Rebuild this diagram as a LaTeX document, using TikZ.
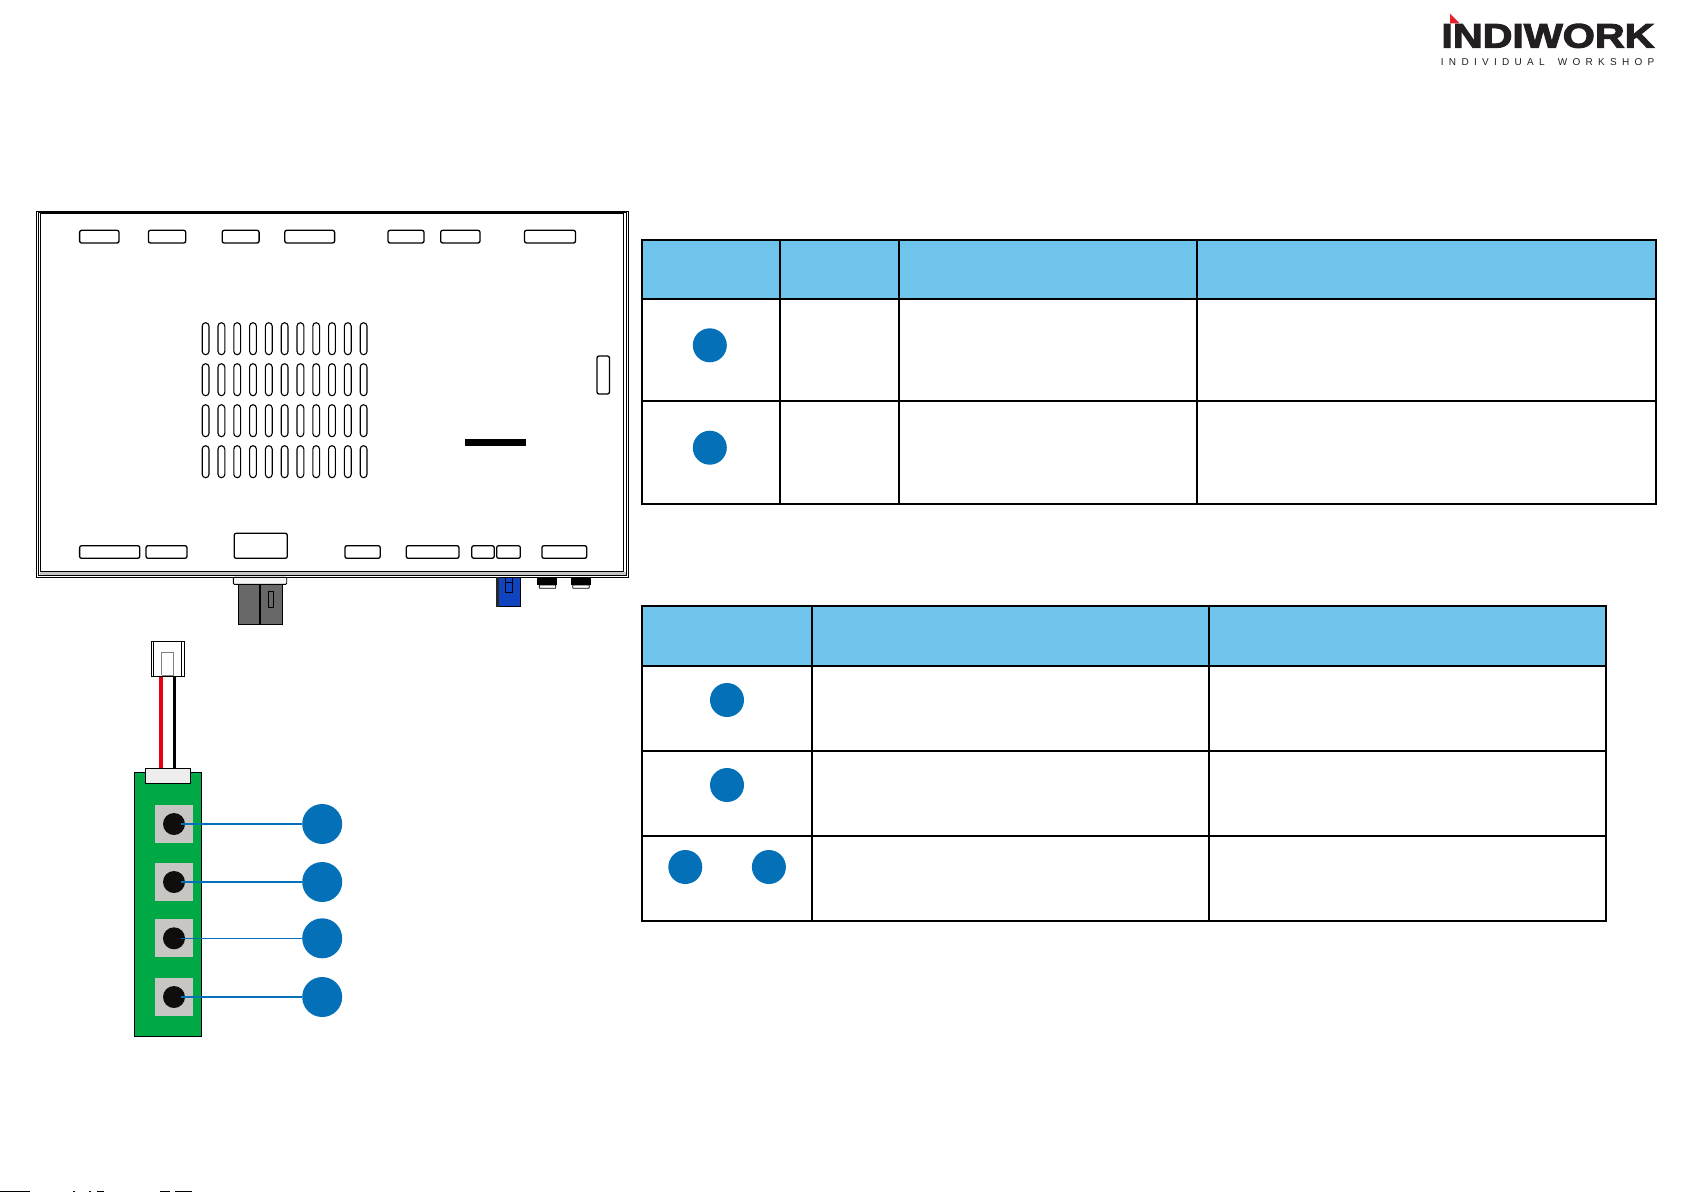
\documentclass[tikz,border=0pt]{standalone}
\usepackage{graphicx}
\usepackage{fontspec}
\setmainfont{Liberation Sans}
\definecolor{headblue}{HTML}{6EC4EA}
\definecolor{markblue}{HTML}{0470B8}
\definecolor{pcbgreen}{HTML}{00A846}
\definecolor{padgray}{HTML}{C8C6C2}
\definecolor{dotblack}{HTML}{100E0D}
\definecolor{plugblue}{HTML}{1043BE}
\definecolor{pluggray}{HTML}{686868}
\definecolor{wirered}{HTML}{E60012}
\definecolor{logoblack}{HTML}{231F20}
\definecolor{logored}{HTML}{E8202A}

\begin{document}
\begin{tikzpicture}[x=1pt, y=-1pt]
\newcommand{\slotA}{230.3}
\newcommand{\slotB}{243}
\newcommand{\slotC}{545.7}
\newcommand{\slotD}{558.3}

\tikzset{ slotbox/.style={draw, line width=1.3pt, rounded corners=2pt},
  vent/.style={draw, line width=1.1pt, rounded corners=3.4pt},
  tablerule/.style={draw, line width=2pt},
  tablebar/.style={draw, line width=2.3pt},
  markdot/.style={circle, fill=markblue, inner sep=0pt, minimum size=34pt},
  bigmark/.style={markdot, minimum size=40pt},
  pad/.style={fill=padgray},
  keydot/.style={circle, fill=dotblack, inner sep=0pt, minimum size=22pt},
  leader/.style={markblue, line width=1.7pt}
}

\useasboundingbox (0,0) rectangle (1685,1192);

% logo
\fill[logored] (1450,13.5) -- (1450,23.3) -- (1459.5,23.3) -- cycle;
\node[inner sep=0pt, anchor=north west, text=logoblack] (logo) at (1441.2,23.6)
  {\resizebox{213pt}{23.8pt}{\bfseries\addfontfeatures{FakeBold=3}INDIWORK}};
\node[inner sep=0pt, anchor=base west, text=logoblack, font=\fontsize{10}{12}\selectfont\addfontfeatures{LetterSpace=53}]
  (logosub) at (1440.7,65.7) {INDIVIDUAL\hspace{5pt} WORKSHOP};

% housing
\draw[line width=1pt] (36.5,211.7) rectangle (628.5,577.3);
\draw[line width=0.6pt] (38.2,212.6) rectangle (626,575);
\draw[line width=0.9pt] (40.2,213.9) rectangle (623,571.7);
\fill[gray!45] (40.2,572.2) rectangle (626,574.6);

\foreach \xa/\xb in {79.6/119, 148.4/185.7, 222.2/259.1, 284.8/334.6, 388/424, 440.7/480, 524.5/575.5}
  \draw[slotbox] (\xa,\slotA) rectangle (\xb,\slotB);
\foreach \xa/\xb in {79.6/139.7, 146/187, 345/380.2, 406.3/459, 471.8/494.2, 496.7/520.3, 541.9/586.7}
  \draw[slotbox] (\xa,\slotC) rectangle (\xb,\slotD);
\draw[slotbox] (234.2,533.3) rectangle (287.3,\slotD);
\draw[slotbox] (597,356) rectangle (609.5,394);
\fill (465.2,439) rectangle (526,446);

\foreach \i in {0,...,10}
  \foreach \y in {322.7, 363.7, 404.7, 445.7}
    \draw[vent] ({205.6+15.8*\i-3.4},\y) rectangle ({205.6+15.8*\i+3.4},\y+32);

% plugs under the housing
\draw[line width=0.9pt, fill=gray!8, rounded corners=1pt] (233.3,577.3) rectangle (286.7,584.3);
\draw[line width=1.2pt, fill=pluggray] (238.8,584.3) rectangle (259.5,624.3);
\draw[line width=1.2pt, fill=pluggray] (260.8,584.3) rectangle (282.4,624.3);
\draw[line width=0.9pt] (268.3,591) rectangle (273.7,607.7);
\draw[line width=0.8pt, fill=plugblue] (496.3,577.3) rectangle (520.3,606.7);
\fill[black!85] (496.3,577.3) rectangle (499.3,606.7);
\draw[line width=0.9pt] (505.3,577.3) rectangle (512,592.3);
\draw[line width=0.9pt] (505.3,582) -- (512,582);
\foreach \xa/\xb in {537.3/557.3, 570.7/590.7} {
  \draw[line width=0.8pt, rounded corners=0.5pt] (\xa+2,585) rectangle (\xb-1.5,588.3);
  \fill (\xa,577.3) rectangle (\xb,585.3);
}

% connector and wires
\draw[wirered, line width=3.7pt] (161.2,676.7) -- (161.2,768.3);
\draw[line width=3pt] (174.5,676.7) -- (174.5,768.3);
\draw[line width=1.1pt, fill=white] (151.6,641.3) rectangle (184.2,676.5);
\draw[line width=1pt] (153.5,641.3) -- (153.5,676.5);
\draw[line width=1pt] (181.8,641.3) -- (181.8,676.5);
\draw[gray, line width=0.8pt] (161.8,675.3) -- (161.8,652.4) -- (173.6,652.4) -- (173.6,675.3);
\draw[gray, line width=1pt] (161.8,675.6) -- (173.6,675.6);

% board
\draw[fill=pcbgreen, line width=1pt] (134.5,772.3) rectangle (201.3,1036.3);
\draw[fill=black!7, line width=1pt] (145.5,768.5) rectangle (190.3,783.3);
\foreach \name/\y in {a/824, b/882, c/938.3, d/997} {
  \fill[pad] (155,\y-19) rectangle (193,\y+19);
  \node[keydot] (dot\name) at (174,\y) {};
  \node[bigmark] (num\name) at (322.2,\y) {};
}
\draw[leader] ([xshift=7pt]dota.center) -- (numa);
\draw[leader] ([xshift=7pt]dotb.center) -- (numb);
\draw[leader, line width=1pt] ([xshift=7pt]dotc.center) -- (numc);
\draw[leader] ([xshift=7pt]dotd.center) -- (numd);

% upper table
\fill[headblue] (642,240) rectangle (1656,299);
\draw[tablebar] (642,240) rectangle (1656,504);
\draw[tablebar] (642,299) -- (1656,299);
\draw[tablebar] (642,401) -- (1656,401);
\foreach \x in {780, 899, 1197}
  \draw[tablerule] (\x,240) -- (\x,504);
\node[markdot] (marka) at (709.8,345.3) {};
\node[markdot] (markb) at (709.8,447.7) {};

% lower table
\fill[headblue] (642,605.7) rectangle (1605.8,665.7);
\draw[tablebar] (642,605.7) rectangle (1605.8,921);
\foreach \y in {665.7, 751, 836}
  \draw[tablebar] (642,\y) -- (1605.8,\y);
\foreach \x in {812, 1208.5}
  \draw[tablerule] (\x,605.7) -- (\x,921);
\node[markdot] (markc) at (727,700) {};
\node[markdot] (markd) at (727,785) {};
\node[markdot] (marke) at (685.3,867) {};
\node[markdot] (markf) at (768.9,867) {};

% cut off at the page edge
\fill (0,1191) rectangle (30,1192);
\foreach \xa/\xb in {73/75, 89/91, 97/104, 160/170, 175/192}
  \fill (\xa,1191.2) rectangle (\xb,1192);

\end{tikzpicture}
\end{document}
